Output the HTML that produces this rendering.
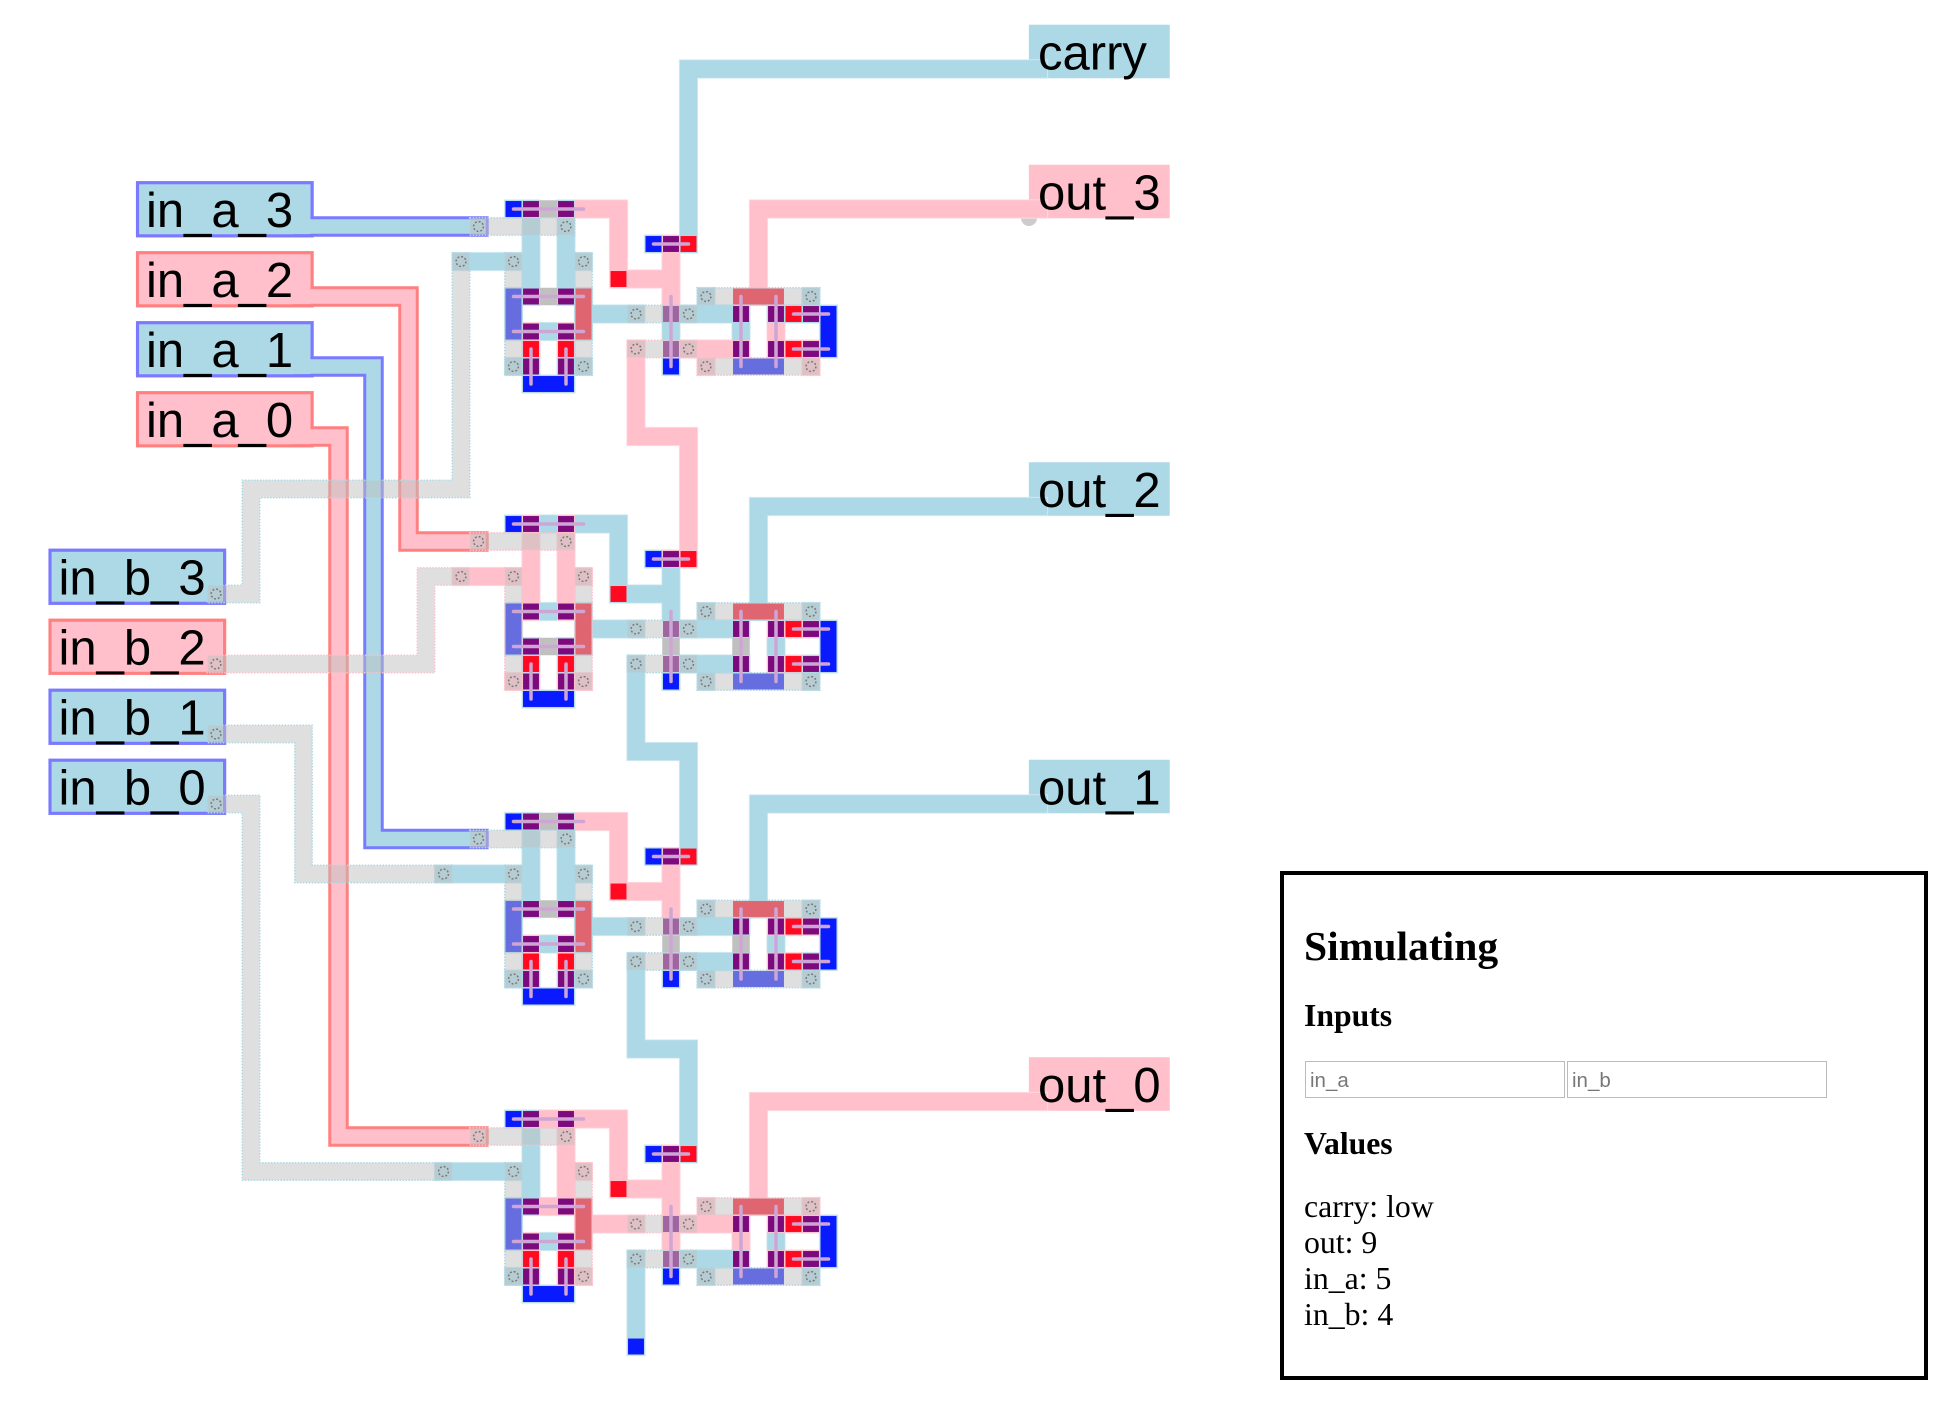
<!DOCTYPE html>
<html><head><meta charset="utf-8">
<style>
html,body{margin:0;padding:0;background:#fff;width:1948px;height:1410px;overflow:hidden}
svg{position:absolute;left:0;top:0}
.b,.p{fill:none;stroke-linecap:square;stroke-linejoin:miter;stroke-width:var(--w)}
.b{stroke:var(--b)}.p{stroke:var(--p)}
.bl{fill:#0a1aff}.rd{fill:#ff0a20}.pu{fill:#7d0a7d}.gc{fill:#c0c0c0}
.gy{fill:rgba(192,192,192,.5);stroke-width:.09;stroke-dasharray:.08 .09}
.gl{stroke:#cfa5d5;stroke-width:.2;stroke-linecap:round;fill:none}
.via{fill:none;stroke:#777;stroke-width:.085;stroke-dasharray:.11 .11}
text{font-family:"Liberation Sans",sans-serif;font-size:49px;fill:#000}
#panel{position:absolute;left:1280px;top:871px;width:640px;height:501px;border:4px solid #000;font-family:"Liberation Serif",serif;color:#000}
#panel div{position:absolute;white-space:nowrap}
.hd{font-weight:bold;font-size:31.7px;line-height:36px;left:20px}
.inp{border:1.6px solid #bbb;box-sizing:border-box;width:260px;height:37px;font:20.5px/37px "Liberation Sans",sans-serif;color:#777;padding-left:4px;top:186px}
</style></head><body>
<svg width="1948" height="1410" viewBox="0 0 1948 1410">
<defs>
<g id="m3">
<path class="b" d="M0 0H1V5M3 0V5M-3 3H1M3 3H4M0 5V7M4 5V7M4 6H7M10 6H13M2 7h.001M0 9H1V10H3V9H4M8 2h.001M9 6V7M9 9h.001M11 5V6M17 5V6M16 6H18V8M13 6V7M15 6h.001"/>
<path class="p" d="M4 0H6V4H9M9 2V5M1 7V8M3 7V8M7 8h.001M10 8H13M11 8V9M15 7V8M16 8H17V9"/>
</g>
<g id="m2">
<path class="b" d="M0 0h.001M2 0H6V4H9M9 2V5M8 2h.001M0 5V7M4 5V7M4 6H7M10 6H13M2 5h.001M1 7V8M3 7V8M7 8h.001M10 8H13M11 5V6M17 5V6M11 8V9M17 8V9M13 6h.001M18 6V8M15 7h.001M1 10H3M9 9h.001"/>
<path class="p" d="M1 0V5M3 0V5M-3 3H1M3 3H4M0 9H1M3 9H4M15 6h.001M16 6H17M15 8h.001M16 8h.001M9 2h.001"/>
</g>
<g id="m1">
<path class="b" d="M0 0H1V5M3 0V5M-4 3H1M3 3H4M0 5V7M4 5V7M4 6H7M10 6H13M2 7h.001M1 9V10H3V9M0 9H1M3 9H4M8 2h.001M7 8h.001M10 8H13M11 5V6M17 5V6M11 8V9M17 8V9M13 6h.001M18 6V8M15 7h.001M9 9h.001"/>
<path class="p" d="M4 0H6V4H9M9 2V5M1 7V8M3 7V8M15 6h.001M16 6H17M15 8h.001M16 8h.001"/>
</g>
<g id="m0">
<path class="b" d="M0 0H1V5M-4 3H1M0 5V7M2 7h.001M0 9H1V10H3M8 2h.001M7 8h.001M10 8H13M11 8V9M17 9h.001M15 7h.001M18 6V8M9 9h.001"/>
<path class="p" d="M2 0H6V4H9M3 0V5M2 5h.001M3 3H4M4 5V7M4 6H7M10 6H13M9 2V7M1 7V8M3 7V8M3 9H4M11 5V6M17 5V6M13 6V7M15 6h.001M16 6H17M15 8h.001M16 8H17"/>
</g>
<g id="metal">
<path class="b" d="M10 2V-8H30"/>
<path class="p" d="M14 5V0H30M7 8V13H10V20"/>
<path class="b" d="M14 23V17H30M7 26V31H10V37M14 40V34H30M7 43V48H10V54M7 60V65"/>
<path class="p" d="M14 57V51H30"/>
<use href="#m3"/>
<g transform="translate(0 18)"><use href="#m2"/></g>
<g transform="translate(0 35)"><use href="#m1"/></g>
<g transform="translate(0 52)"><use href="#m0"/></g>
</g>
<g id="sub">
<rect class="bl" x="-.455" y="-.455" width=".91" height=".91"/>
<rect class="bl" x="7.545" y="1.545" width=".91" height=".91"/>
<rect class="bl" x="8.545" y="8.545" width=".91" height=".91"/>
<rect class="bl" x=".545" y="9.545" width="2.91" height=".91"/>
<rect class="bl" x="17.545" y="5.545" width=".91" height="2.91"/>
<rect class="bl" x="-.455" y="4.545" width=".91" height="2.91"/>
<rect class="bl" x="12.545" y="8.545" width="2.91" height=".91"/>
<rect class="rd" x="9.545" y="1.545" width=".91" height=".91"/>
<rect class="rd" x=".545" y="7.545" width=".91" height=".91"/>
<rect class="rd" x="2.545" y="7.545" width=".91" height=".91"/>
<rect class="rd" x="15.545" y="5.545" width=".91" height=".91"/>
<rect class="rd" x="15.545" y="7.545" width=".91" height=".91"/>
<rect class="rd" x="3.545" y="4.545" width=".91" height="2.91"/>
<rect class="rd" x="12.545" y="4.545" width="2.91" height=".91"/>
<rect class="rd" x="5.545" y="3.545" width=".91" height=".91"/>
<rect class="pu" x=".545" y="-.455" width=".91" height=".91"/>
<rect class="pu" x="2.545" y="-.455" width=".91" height=".91"/>
<rect class="pu" x=".545" y="4.545" width=".91" height=".91"/>
<rect class="pu" x="2.545" y="4.545" width=".91" height=".91"/>
<rect class="pu" x=".545" y="6.545" width=".91" height=".91"/>
<rect class="pu" x="2.545" y="6.545" width=".91" height=".91"/>
<rect class="pu" x=".545" y="8.545" width=".91" height=".91"/>
<rect class="pu" x="2.545" y="8.545" width=".91" height=".91"/>
<rect class="pu" x="8.545" y="1.545" width=".91" height=".91"/>
<rect class="pu" x="8.545" y="5.545" width=".91" height=".91"/>
<rect class="pu" x="8.545" y="7.545" width=".91" height=".91"/>
<rect class="pu" x="12.545" y="5.545" width=".91" height=".91"/>
<rect class="pu" x="14.545" y="5.545" width=".91" height=".91"/>
<rect class="pu" x="12.545" y="7.545" width=".91" height=".91"/>
<rect class="pu" x="14.545" y="7.545" width=".91" height=".91"/>
<rect class="pu" x="16.545" y="5.545" width=".91" height=".91"/>
<rect class="pu" x="16.545" y="7.545" width=".91" height=".91"/>
</g>
<g id="gray">
<rect class="gy" style="stroke:var(--g1)" x="-2.5" y=".5" width="6" height="1"/>
<rect class="gy" style="stroke:var(--g2)" x="-.5" y="2.5" width="1" height="7"/>
<rect class="gy" style="stroke:var(--g3)" x="3.5" y="2.5" width="1" height="7"/>
<rect class="gy" style="stroke:var(--g4)" x="6.5" y="5.5" width="4" height="1"/>
<rect class="gy" style="stroke:var(--g5)" x="6.5" y="7.5" width="4" height="1"/>
<rect class="gy" style="stroke:var(--g6)" x="10.5" y="4.5" width="7" height="1"/>
<rect class="gy" style="stroke:var(--g7)" x="10.5" y="8.5" width="7" height="1"/>
</g>
<g id="top">
<path class="gl" d="M0 0H4M0 5H4M0 7H4M1 8V10M3 8V10M8 2H10M9 5V9M13 5V9M15 5V9M16 6H18M16 8H18"/>
<g class="via">
<circle cx="-2" cy="1" r=".28"/><circle cx="3" cy="1" r=".28"/><circle cx="0" cy="3" r=".28"/><circle cx="4" cy="3" r=".28"/><circle cx="0" cy="9" r=".28"/><circle cx="4" cy="9" r=".28"/><circle cx="7" cy="6" r=".28"/><circle cx="10" cy="6" r=".28"/><circle cx="7" cy="8" r=".28"/><circle cx="10" cy="8" r=".28"/><circle cx="11" cy="5" r=".28"/><circle cx="17" cy="5" r=".28"/><circle cx="11" cy="9" r=".28"/><circle cx="17" cy="9" r=".28"/>
</g>
</g>
</defs>
<circle cx="1029" cy="218" r="8" fill="#ccc"/>
<g transform="translate(513.5 209) scale(17.5)">
<!-- framed input outlines -->
<g fill="none" stroke-linecap="square" stroke-linejoin="miter" stroke-width="1.17">
<path stroke="#7a7aff" d="M-12 1H-2M-12 9H-8V36H-2"/>
<path stroke="#ff8080" d="M-12 5H-6V19H-2M-12 13H-10V53H-2"/>
</g>
<g fill="none" stroke-width=".19">
<rect stroke="#7a7aff" x="-21.48" y="-1.5" width="9.97" height="3.03"/>
<rect stroke="#ff8080" x="-21.48" y="2.5" width="9.97" height="3.03"/>
<rect stroke="#7a7aff" x="-21.48" y="6.5" width="9.97" height="3.03"/>
<rect stroke="#ff8080" x="-21.48" y="10.5" width="9.97" height="3.03"/>
<rect stroke="#7a7aff" x="-26.48" y="19.5" width="9.97" height="3.03"/>
<rect stroke="#ff8080" x="-26.48" y="23.5" width="9.97" height="3.03"/>
<rect stroke="#7a7aff" x="-26.48" y="27.5" width="9.97" height="3.03"/>
<rect stroke="#7a7aff" x="-26.48" y="31.5" width="9.97" height="3.03"/>
</g>
<g fill="#add8e6">
<rect x="-21.385" y="-1.405" width="9.78" height="2.84"/>
<rect x="-21.385" y="6.595" width="9.78" height="2.84"/>
<rect x="-26.385" y="19.595" width="9.78" height="2.84"/>
<rect x="-26.385" y="27.595" width="9.78" height="2.84"/>
<rect x="-26.385" y="31.595" width="9.78" height="2.84"/>
<rect x="29.45" y="-10.53" width="8.05" height="3.06"/>
<rect x="29.45" y="14.47" width="8.05" height="3.06"/>
<rect x="29.45" y="31.47" width="8.05" height="3.06"/>
</g>
<g fill="#ffc0cb">
<rect x="-21.385" y="2.595" width="9.78" height="2.84"/>
<rect x="-21.385" y="10.595" width="9.78" height="2.84"/>
<rect x="-26.385" y="23.595" width="9.78" height="2.84"/>
<rect x="29.45" y="-2.53" width="8.05" height="3.06"/>
<rect x="29.45" y="48.47" width="8.05" height="3.06"/>
</g>
<g fill="none" stroke-linecap="square" stroke-linejoin="miter" stroke-width=".83">
<path stroke="#add8e6" d="M-12 1H-2M-12 9H-8V36H-2"/>
<path stroke="#ffc0cb" d="M-12 5H-6V19H-2M-12 13H-10V53H-2"/>
</g>
<!-- metal layer: pale outline + body -->
<g style="--b:#d3ebf3;--p:#ffdce2;--w:1.1"><use href="#metal"/></g>
<g style="--b:#add8e6;--p:#ffc0cb;--w:1"><use href="#metal"/></g>
<!-- substrate -->
<use href="#sub"/>
<g transform="translate(0 18)"><use href="#sub"/></g>
<g transform="translate(0 35)"><use href="#sub"/></g>
<g transform="translate(0 52)"><use href="#sub"/></g>
<rect class="bl" x="6.545" y="64.545" width=".91" height=".91"/>
<!-- opaque gray cells -->
<g class="gc">
<rect x="1.5" y="-.5" width="1" height="1"/><rect x="1.5" y="4.5" width="1" height="1"/>
<rect x="1.5" y="24.5" width="1" height="1"/><rect x="8.5" y="24.5" width="1" height="1"/><rect x="12.5" y="24.5" width="1" height="1"/>
<rect x="1.5" y="34.5" width="1" height="1"/><rect x="1.5" y="39.5" width="1" height="1"/><rect x="8.5" y="41.5" width="1" height="1"/><rect x="12.5" y="41.5" width="1" height="1"/>
</g>
<!-- gray overlays -->
<g style="--g1:#add8e6;--g2:#add8e6;--g3:#add8e6;--g4:#add8e6;--g5:#ffc0cb;--g6:#add8e6;--g7:#ffc0cb"><use href="#gray"/></g>
<g transform="translate(0 18)" style="--g1:#ffc0cb;--g2:#ffc0cb;--g3:#ffc0cb;--g4:#add8e6;--g5:#add8e6;--g6:#add8e6;--g7:#add8e6"><use href="#gray"/></g>
<g transform="translate(0 35)" style="--g1:#add8e6;--g2:#add8e6;--g3:#add8e6;--g4:#add8e6;--g5:#add8e6;--g6:#add8e6;--g7:#add8e6"><use href="#gray"/></g>
<g transform="translate(0 52)" style="--g1:#ffc0cb;--g2:#add8e6;--g3:#ffc0cb;--g4:#ffc0cb;--g5:#add8e6;--g6:#ffc0cb;--g7:#add8e6"><use href="#gray"/></g>
<polygon class="gy" stroke="#add8e6" points="-17.5,21.5 -15.5,21.5 -15.5,15.5 -3.5,15.5 -3.5,2.5 -2.5,2.5 -2.5,16.5 -14.5,16.5 -14.5,22.5 -17.5,22.5"/>
<polygon class="gy" stroke="#ffc0cb" points="-17.5,25.5 -5.5,25.5 -5.5,20.5 -2.5,20.5 -2.5,21.5 -4.5,21.5 -4.5,26.5 -17.5,26.5"/>
<polygon class="gy" stroke="#add8e6" points="-17.5,29.5 -11.5,29.5 -11.5,37.5 -3.5,37.5 -3.5,38.5 -12.5,38.5 -12.5,30.5 -17.5,30.5"/>
<polygon class="gy" stroke="#add8e6" points="-17.5,33.5 -14.5,33.5 -14.5,54.5 -3.5,54.5 -3.5,55.5 -15.5,55.5 -15.5,34.5 -17.5,34.5"/>
<!-- gate lines + vias -->
<use href="#top"/>
<g transform="translate(0 18)"><use href="#top"/></g>
<g transform="translate(0 35)"><use href="#top"/></g>
<g transform="translate(0 52)"><use href="#top"/></g>
<g class="via">
<circle cx="-17" cy="22" r=".28"/><circle cx="-17" cy="26" r=".28"/><circle cx="-17" cy="30" r=".28"/><circle cx="-17" cy="34" r=".28"/>
<circle cx="-3" cy="3" r=".28"/><circle cx="-3" cy="21" r=".28"/><circle cx="-4" cy="38" r=".28"/><circle cx="-4" cy="55" r=".28"/>
</g>
</g>
<text x="146" y="227">in_a_3</text>
<text x="146" y="297">in_a_2</text>
<text x="146" y="367">in_a_1</text>
<text x="146" y="437">in_a_0</text>
<text x="58.5" y="594.5">in_b_3</text>
<text x="58.5" y="664.5">in_b_2</text>
<text x="58.5" y="734.5">in_b_1</text>
<text x="58.5" y="804.5">in_b_0</text>
<text x="1038" y="69.5">carry</text>
<text x="1038" y="209.5">out_3</text>
<text x="1038" y="507">out_2</text>
<text x="1038" y="804.5">out_1</text>
<text x="1038" y="1102">out_0</text>
</svg>
<div id="panel">
<div style="left:20px;top:47px;font-weight:bold;font-size:41.6px;line-height:48px">Simulating</div>
<div class="hd" style="top:123px">Inputs</div>
<div class="inp" style="left:21px">in_a</div>
<div class="inp" style="left:283px">in_b</div>
<div class="hd" style="top:251px">Values</div>
<div style="left:20px;top:313.5px;font-size:31.8px;line-height:36px">carry: low<br>out: 9<br>in_a: 5<br>in_b: 4</div>
</div>
</body></html>
